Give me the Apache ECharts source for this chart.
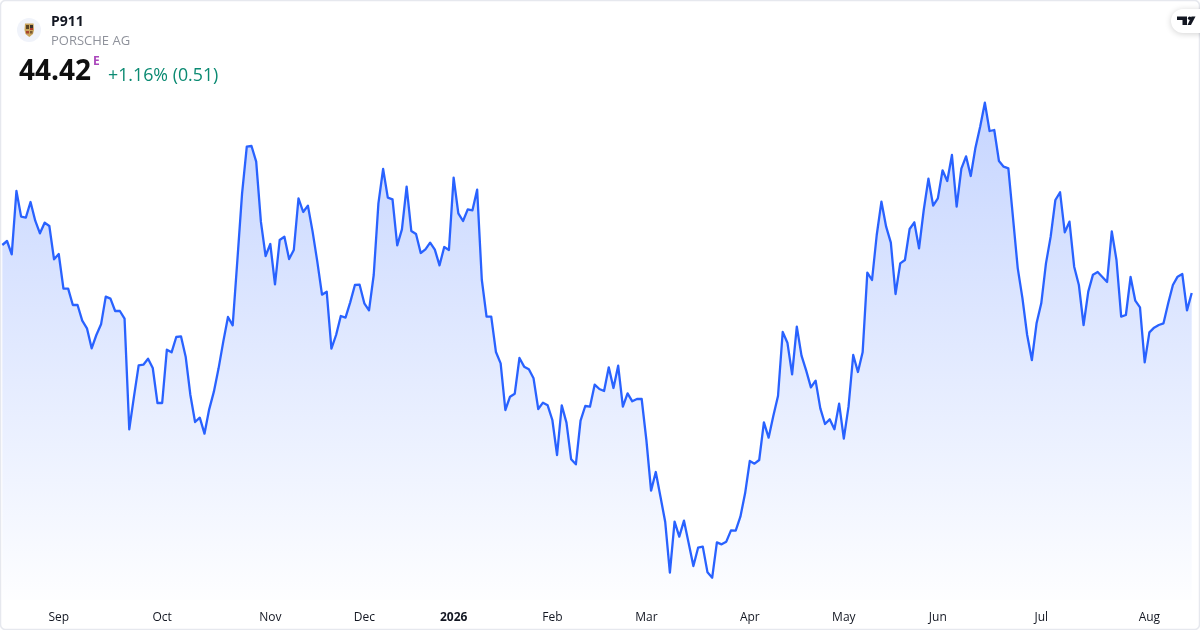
<!DOCTYPE html>
<html>
<head>
<meta charset="utf-8">
<style>html,body{margin:0;padding:0;background:#fff}#c{width:1200px;height:630px}</style>
<script src="https://cdn.jsdelivr.net/npm/echarts@6/dist/echarts.min.js"></script>
</head>
<body>
<div id="c"></div>
<script>
const prices = [
45.86,45.98,45.58,47.48,46.71,46.68,47.15,46.59,46.21,46.53,46.43,45.43,45.59,44.55,44.55,44.06,44.06,43.59,43.36,42.76,
43.16,43.48,44.31,44.25,43.88,43.88,43.65,40.33,41.31,42.25,42.27,42.45,42.17,41.12,41.12,42.72,42.64,43.10,43.12,42.51,
41.36,40.55,40.68,40.20,40.93,41.46,42.16,42.96,43.70,43.45,45.41,47.41,48.81,48.83,48.36,46.56,45.53,45.89,44.68,46.01,
46.11,45.44,45.71,47.26,46.85,47.04,46.26,45.36,44.37,44.46,42.75,43.16,43.73,43.68,44.14,44.66,44.67,44.11,43.90,44.96,
47.11,48.14,47.28,47.23,45.85,46.33,47.61,46.28,46.19,45.62,45.73,45.93,45.72,45.25,45.80,45.71,47.88,46.81,46.58,46.93,
46.90,47.52,44.81,43.71,43.71,42.65,42.31,40.91,41.31,41.40,42.47,42.21,42.13,41.86,40.94,41.13,41.05,40.61,39.56,41.05,
40.53,39.43,39.28,40.59,41.03,41.01,41.67,41.54,41.48,42.19,41.57,42.24,41.01,41.41,41.17,41.24,41.24,40.01,38.49,39.05,
38.31,37.56,36.03,37.56,37.11,37.59,36.91,36.23,36.78,36.81,36.04,35.88,36.94,36.88,36.96,37.30,37.29,37.71,38.41,39.38,
39.30,39.41,40.54,40.08,40.73,41.33,43.25,42.93,41.98,43.41,42.54,42.09,41.59,41.79,40.96,40.49,40.63,40.33,41.10,40.05,
41.01,42.56,42.05,42.64,45.03,44.81,46.16,47.16,46.41,45.93,44.39,45.31,45.41,46.34,46.54,45.76,46.91,47.85,47.04,47.26,
48.10,47.78,48.56,47.01,48.15,48.52,47.93,48.78,49.41,50.13,49.28,49.31,48.38,48.21,48.16,46.66,45.16,44.26,43.16,42.41,
43.51,44.11,45.31,46.11,47.21,47.44,46.24,46.56,45.21,44.66,43.46,44.46,44.97,45.05,44.90,44.75,46.27,45.41,43.71,43.76,
44.90,44.19,43.99,42.34,43.24,43.38,43.46,43.51,44.11,44.66,44.91,44.99,43.90,44.42
];
const tickIndexes = [12,34,57,77,96,117,137,159,179,199,221,244];
const tickLabels = ['Sep','Oct','Nov','Dec','2026','Feb','Mar','Apr','May','Jun','Jul','Aug'];
const symbol = 'P911';
const company = 'PORSCHE AG';
const lastPrice = '44.42';
const change = '+1.16% (0.51)';

const categories = prices.map((_, i) => {
  const k = tickIndexes.indexOf(i);
  return k >= 0 ? tickLabels[k] : String(i);
});
const font = '"Open Sans", sans-serif';
const chart = echarts.init(document.getElementById('c'), null, {renderer:'canvas'});
chart.setOption({
  animation:false,
  backgroundColor:'#fff',
  grid:{left:2.33,right:8.3,top:30,bottom:30},
  xAxis:{
    type:'category',data:categories,boundaryGap:false,
    axisLine:{show:false},axisTick:{show:false},splitLine:{show:false},
    axisLabel:{
      interval:(i)=>tickIndexes.includes(i),
      margin:12,fontFamily:font,fontSize:12,color:'#131722',
      formatter:(v)=>v==='2026'?'{b|2026}':v,
      rich:{b:{fontFamily:font,fontSize:12,fontWeight:'bold',color:'#131722'}},
      hideOverlap:false
    }
  },
  yAxis:{type:'value',min:35.21,max:52.31,show:false,splitLine:{show:false}},
  series:[{
    type:'line',data:prices,showSymbol:false,smooth:false,
    lineStyle:{color:'#2962FF',width:2.3,join:'round'},
    areaStyle:{origin:'start',color:new echarts.graphic.LinearGradient(0,0,0,1,[
      {offset:0,color:'rgba(41,98,255,0.38)'},{offset:1,color:'rgba(41,98,255,0.01)'}])},
    silent:true
  }],
  graphic:{elements:[
    {type:'rect',z:100,silent:true,shape:{x:0.5,y:0.5,width:1199,height:629,r:5},style:{fill:'none',stroke:'#e6e8ee',lineWidth:1.5}},
    {type:'circle',z:101,shape:{cx:29,cy:30,r:12},style:{fill:'#f0f3fa'}},
    {type:'polygon',z:102,shape:{points:[[25,23.5],[33.5,23.5],[34,30],[33,34],[29.3,37],[25.5,34],[24.5,30]]},style:{fill:'#c9a45c'}},
    {type:'rect',z:103,shape:{x:26,y:25,width:3,height:4},style:{fill:'#5a4526'}},
    {type:'rect',z:103,shape:{x:30,y:25,width:3,height:3},style:{fill:'#3a3228'}},
    {type:'rect',z:103,shape:{x:30,y:28,width:3,height:2},style:{fill:'#b23a2a'}},
    {type:'rect',z:103,shape:{x:26,y:31,width:3,height:2.5},style:{fill:'#a8452f'}},
    {type:'rect',z:103,shape:{x:30,y:31,width:2.5,height:2.5},style:{fill:'#7a5a30'}},
    {type:'text',z:102,x:51,y:22,style:{text:symbol,font:'bold 14px "Open Sans"',fill:'#131722',textVerticalAlign:'middle'}},
    {type:'text',z:102,x:51,y:41,style:{text:company,font:'13px "Open Sans"',fill:'#8f929b',textVerticalAlign:'middle'}},
    {type:'text',z:102,x:19,y:72.5,style:{text:lastPrice,font:'bold 28px "Open Sans"',fill:'#0f0f0f',textVerticalAlign:'middle'}},
    {type:'text',z:102,x:93,y:62,style:{text:'E',font:'bold 12px "Open Sans"',fill:'#ab47bc',textVerticalAlign:'middle'}},
    {type:'text',z:102,x:108,y:76,style:{text:change,font:'17.8px "Open Sans"',fill:'#0b8a72',textVerticalAlign:'middle'}},
    {type:'rect',z:104,shape:{x:1171,y:9,width:60,height:24,r:12},style:{fill:'#fff',shadowBlur:6,shadowColor:'rgba(0,0,0,0.18)',shadowOffsetY:1}},
    {type:'polygon',z:105,shape:{points:[[1177,16.5],[1187,16.5],[1187,25],[1182.5,25],[1182.5,20],[1177,20]]},style:{fill:'#131722'}},
    {type:'circle',z:105,shape:{cx:1189.7,cy:18.3,r:1.8},style:{fill:'#131722'}},
    {type:'polygon',z:105,shape:{points:[[1191.5,16.5],[1195.5,16.5],[1191,25],[1187.5,25]]},style:{fill:'#131722'}}
  ]}
});
</script>
</body>
</html>
